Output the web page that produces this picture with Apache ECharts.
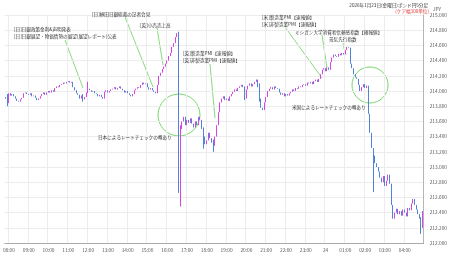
<!DOCTYPE html>
<html><head><meta charset="utf-8">
<script src="https://cdn.jsdelivr.net/npm/echarts@6/dist/echarts.min.js"></script>
<style>html,body{margin:0;padding:0;background:#fff}#c{width:450px;height:258px}</style>
</head><body><div id="c"></div>
<script>
// 5-minute candles, GBP/JPY, 2026-01-23 07:50 -> 2026-01-24 04:55
const startMinute = 7 * 60 + 50;
const firstOpen = 213.92;
const closes = [
213.90,213.84,213.97,213.94,213.96,213.93,213.90,213.87,213.86,213.89,
213.91,213.97,213.98,213.96,213.95,213.97,213.93,213.94,213.91,213.88,
213.90,213.93,213.96,213.98,213.95,213.98,214.00,213.98,214.01,213.99,
214.04,214.06,214.05,214.08,214.09,214.11,214.10,214.12,214.13,214.11,
214.12,214.05,214.01,213.97,213.95,213.90,213.94,213.89,213.92,213.98,
214.03,214.01,213.99,214.00,213.97,213.96,213.93,213.95,213.92,213.90,
213.99,214.01,213.98,214.00,214.02,214.03,214.05,214.02,214.04,214.06,
214.03,214.01,213.98,214.00,213.97,213.95,213.93,213.96,214.01,214.03,
214.05,214.04,214.08,214.11,214.09,214.10,214.05,214.02,214.04,214.01,
213.99,213.97,214.08,214.20,214.24,214.29,214.32,214.36,214.40,214.46,
214.50,214.58,214.63,214.71,214.76,212.72,213.50,213.60,213.66,213.55,
213.62,213.58,213.64,213.57,213.52,213.60,213.55,213.66,213.62,213.50,
213.40,213.30,213.35,213.45,213.38,213.32,213.28,213.40,213.55,213.72,
213.85,213.90,213.93,213.88,213.90,213.87,213.93,213.96,213.99,214.02,
214.00,214.04,214.06,214.08,214.05,213.90,214.02,214.07,214.10,214.06,
214.09,214.12,214.15,214.05,213.90,213.78,213.75,213.85,213.92,214.00,
214.03,214.05,214.02,214.06,214.04,214.03,213.98,213.95,213.97,213.93,
213.96,213.94,213.97,213.99,214.02,214.00,214.04,214.03,214.06,214.05,
214.08,214.09,214.07,214.11,214.10,214.12,214.09,214.13,214.15,214.12,
214.16,214.22,214.28,214.30,214.26,214.31,214.28,214.38,214.44,214.48,
214.46,214.45,214.49,214.47,214.50,214.48,214.54,214.58,214.57,214.36,
214.30,214.22,214.18,214.16,214.08,214.00,214.05,214.09,214.04,214.07,
213.70,213.45,213.25,213.15,213.05,213.00,212.94,212.86,212.80,212.88,
212.75,212.82,212.90,212.78,212.50,212.32,212.40,212.45,212.38,212.42,
212.36,212.44,212.40,212.35,212.46,212.43,212.52,212.58,212.50,212.44,
212.38,212.32,212.20,212.42
];
// [candle index, low, high] for candles with visible wicks
const wicks = [
[1,213.80,213.96],[47,213.86,213.96],[50,213.97,214.12],
[105,212.66,214.78],[106,212.48,213.55],[120,213.24,213.52],
[126,213.20,213.36],[145,213.88,214.06],[154,213.86,214.10],
[223,212.67,213.25],[252,212.12,212.34]
];
const yTicks = {min: 212, max: 215, step: 0.2};

const times = closes.map((_, i) => {
  const t = (startMinute + 5 * i) % 1440;
  const h = Math.floor(t / 60), m = t % 60;
  if (h === 0 && m === 0) return '24';
  return String(h).padStart(2, '0') + ':' + String(m).padStart(2, '0');
});
const candles = closes.map((c, i) => {
  const o = i === 0 ? firstOpen : closes[i - 1];
  return [o, c, Math.min(o, c), Math.max(o, c)];
});
wicks.forEach(([i, lo, hi]) => { candles[i][2] = lo; candles[i][3] = hi; });

const isHour = (idx) => times[idx] && (times[idx].endsWith(':00') || times[idx] === '24');

const FONT = '"Noto Sans CJK JP", "Noto Sans", sans-serif';
const green = '#7ad66f';
function txt(x, y, s, opt) {
  return Object.assign({type: 'text', x: x, y: y, silent: true, z: 10,
    style: Object.assign({text: s, fill: '#333', font: '4.6px ' + FONT, verticalAlign: 'middle'}, opt || {})});
}
function ln(x1, y1, x2, y2, color, w) {
  return {type: 'line', silent: true, shape: {x1, y1, x2, y2}, style: {stroke: color || green, lineWidth: w || 0.9}};
}
function circ(cx, cy, r) {
  return {type: 'circle', silent: true, shape: {cx, cy, r}, style: {stroke: green, fill: 'none', lineWidth: 1}};
}

const chart = echarts.init(document.getElementById('c'), null, {renderer: 'canvas'});
chart.setOption({
  animation: false,
  backgroundColor: '#fff',
  grid: {left: 0, right: 20, top: 15, bottom: 15},
  xAxis: {
    type: 'category', data: times, boundaryGap: true,
    axisLine: {lineStyle: {color: '#aaa', width: 1}},
    axisTick: {show: false},
    axisLabel: {interval: (i) => isHour(i), color: '#555', fontSize: 4.8, fontFamily: FONT, margin: 5, hideOverlap: false},
    splitLine: {show: true, interval: (i) => isHour(i), lineStyle: {color: '#ececec', width: 1}}
  },
  yAxis: {
    type: 'value', position: 'right', min: yTicks.min, max: yTicks.max, interval: yTicks.step,
    axisLine: {show: true, lineStyle: {color: '#b5b5b5', width: 1}},
    axisTick: {show: false},
    axisLabel: {color: '#555', fontSize: 4.8, fontFamily: FONT, margin: 6, formatter: (v) => v.toFixed(3)},
    splitLine: {show: true, lineStyle: {color: '#ececec', width: 1}}
  },
  title: {
    text: 'JPY', right: 4, top: 2,
    textStyle: {color: '#555', fontSize: 4.8, fontWeight: 'normal', fontFamily: FONT}
  },
  series: [{
    type: 'candlestick', data: candles, barWidth: 1.3,
    itemStyle: {color: '#d845e2', color0: '#4f84d8', borderColor: '#d845e2', borderColor0: '#4f84d8', borderWidth: 1}
  }],
  graphic: [
    txt(428, 5, '2026年1月23日(金曜日)ポンド円5分足', {align: 'right'}),
    txt(429, 11, '(ケア幅300単位)', {align: 'right', fill: '#e23b3b'}),
    txt(14, 29, '[日]日銀政策金利&声明発表'),
    txt(14, 36, '[日]日銀展望・物価情勢の展望(展望レポート)公表'),
    txt(92, 14, '[日]植田日銀総裁の記者会見'),
    txt(140, 25, '[英]小売売上高'),
    txt(183, 53, '[英]製造業PMI【速報値】'),
    txt(183, 60, '[英]非製造業PMI【速報値】'),
    txt(262, 17, '[米]製造業PMI【速報値】'),
    txt(262, 24, '[米]非製造業PMI【速報値】'),
    txt(295, 32, 'ミシガン大学消費者信頼感指数【確報値】'),
    txt(329, 39, '景気先行指数'),
    txt(98, 137, '日本によるレートチェックの噂あり'),
    txt(292, 107, '米国によるレートチェックの噂あり'),
    ln(65, 40, 83, 88),
    ln(125, 17, 153, 87),
    ln(157, 28, 163, 65),
    ln(210, 64, 215, 118),
    ln(285, 27, 322, 78),
    ln(322, 35, 327, 68),
    ln(343, 43, 345, 53),
    circ(179, 115, 21),
    circ(370, 85, 18)
  ]
});
</script>
</body></html>
